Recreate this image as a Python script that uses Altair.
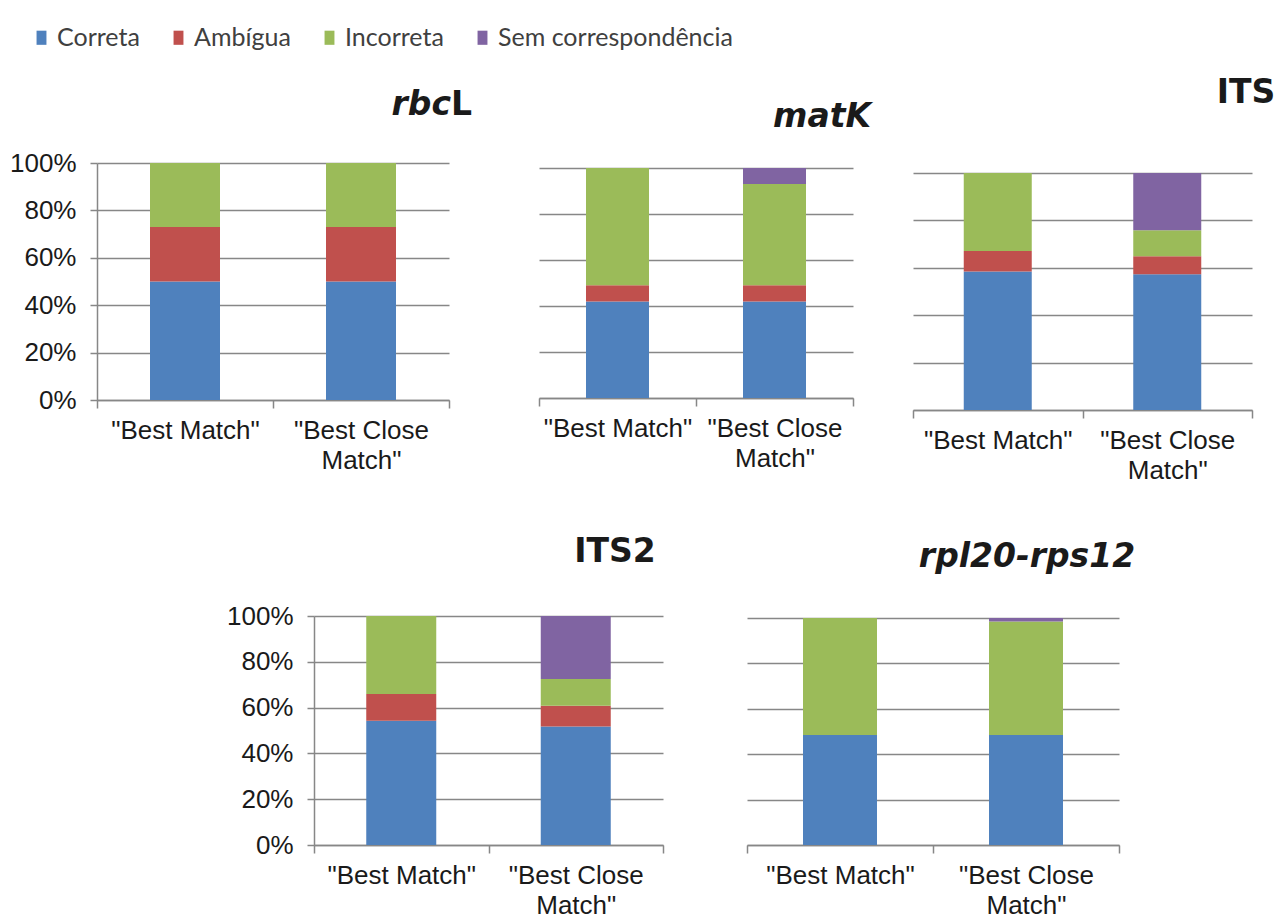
import altair as alt
import pandas as pd

# Classes de identificação e cores (paleta Office)
classes = ["Correta", "Ambígua", "Incorreta", "Sem correspondência"]
cores = ["#4F81BD", "#C0504D", "#9BBB59", "#8064A2"]
categorias = ['"Best Match"', '"Best Close Match"']
titulos = ["rbcL", "matK", "ITS", "ITS2", "rpl20-rps12"]
marcas_y = [0, 20, 40, 60, 80, 100]

# Percentagens por marcador: [Correta, Ambígua, Incorreta, Sem correspondência]
rbcl_best = [50.0, 23.0, 27.0, 0.0]
rbcl_close = [50.0, 23.0, 27.0, 0.0]
matk_best = [42.0, 7.0, 51.0, 0.0]
matk_close = [42.0, 7.0, 44.0, 7.0]
its_best = [58.4, 8.7, 32.9, 0.0]
its_close = [57.3, 7.6, 10.9, 24.2]
its2_best = [54.3, 11.6, 34.1, 0.0]
its2_close = [51.8, 9.0, 11.7, 27.5]
rpl_best = [48.5, 0.0, 51.5, 0.0]
rpl_close = [48.5, 0.0, 50.0, 1.5]

W, H = 1283, 918
CINZA = "#878787"
FONTE_EIXO = "Liberation Sans"
FONTE_TITULO = "DejaVu Sans"
FONTE_LEGENDA = "Lato"


def tabela(best, close):
    linhas = []
    for cat, vals in zip(categorias, [best, close]):
        for i, (cls, v) in enumerate(zip(classes, vals)):
            if v > 0:
                linhas.append({"categoria": cat, "classe": cls, "ordem": i, "valor": v})
    return pd.DataFrame(linhas)


legenda = alt.Legend(
    title=None,
    orient="none",
    legendX=29,
    legendY=25,
    direction="horizontal",
    symbolType="M-0.7,-1H0.7V1H-0.7Z",
    symbolSize=200,
    symbolStrokeWidth=0,
    labelFont=FONTE_LEGENDA,
    labelFontSize=25,
    labelColor="#404040",
    labelOffset=3,
    labelLimit=0,
    columnPadding=26,
    padding=0,
)


def painel(best, close, xr, yr, largura, com_rotulos):
    eixo_x = alt.Axis(
        title=None,
        orient="bottom",
        offset=yr[0] - H,
        grid=False,
        domainColor=CINZA,
        domainWidth=1.5,
        tickBand="extent",
        tickSize=8,
        tickColor=CINZA,
        tickWidth=1.5,
        labelFont=FONTE_EIXO,
        labelFontSize=26,
        labelColor="#1a1a1a",
        labelAngle=0,
        labelPadding=9,
        labelLimit=0,
        labelOverlap=False,
        labelLineHeight=30,
        labelExpr="split(replace(datum.label, 'Close ', 'Close|'), '|')",
    )
    eixo_y = alt.Axis(
        title=None,
        orient="left",
        offset=-xr[0],
        values=marcas_y,
        grid=True,
        gridColor=CINZA,
        gridWidth=1.5,
        domain=com_rotulos,
        domainColor=CINZA,
        domainWidth=1.5,
        ticks=com_rotulos,
        tickSize=7,
        tickColor=CINZA,
        tickWidth=1.5,
        labels=com_rotulos,
        labelExpr="datum.value + '%'",
        labelFont=FONTE_EIXO,
        labelFontSize=26,
        labelColor="#1a1a1a",
        labelPadding=14,
    )
    return (
        alt.Chart(tabela(best, close))
        .mark_bar(size=largura)
        .encode(
            x=alt.X(
                "categoria:N",
                sort=categorias,
                scale=alt.Scale(domain=categorias, range=list(xr), paddingInner=0, paddingOuter=0),
                axis=eixo_x,
            ),
            y=alt.Y(
                "valor:Q",
                stack="zero",
                scale=alt.Scale(domain=[0, 100], range=list(yr), nice=False),
                axis=eixo_y,
            ),
            color=alt.Color("classe:N", scale=alt.Scale(domain=classes, range=cores), legend=legenda),
            order=alt.Order("ordem:Q", sort="ascending"),
        )
    )


def titulo(texto, x, y, italico, alinhamento="center"):
    return (
        alt.Chart(pd.DataFrame({"t": [texto]}))
        .mark_text(
            font=FONTE_TITULO,
            fontSize=33,
            fontWeight="bold",
            fontStyle="italic" if italico else "normal",
            align=alinhamento,
            baseline="alphabetic",
            color="#1a1a1a",
        )
        .encode(x=alt.value(x), y=alt.value(y), text="t:N")
    )


paineis = [
    painel(rbcl_best, rbcl_close, (97, 449), (400, 163), 70, True),
    painel(matk_best, matk_close, (539, 853), (398, 168), 63, False),
    painel(its_best, its_close, (913, 1252), (410, 173), 68, False),
    painel(its2_best, its2_close, (314, 663), (845, 616), 70, True),
    painel(rpl_best, rpl_close, (747, 1119), (845, 618), 74, False),
]

cabecalhos = [
    titulo(titulos[0][:-1], 451, 115, True, "right"),
    titulo(titulos[0][-1:], 451, 115, False, "left"),
    titulo(titulos[1], 822, 127, True),
    titulo(titulos[2], 1246, 103, False),
    titulo(titulos[3], 615, 562, False),
    titulo(titulos[4], 1027, 567, True),
]

chart = (
    alt.layer(*paineis, *cabecalhos)
    .resolve_scale(x="independent", y="independent")
    .properties(width=W, height=H, autosize="none", padding=0, background="white")
    .configure_view(strokeWidth=0)
)

chart.save("out.html", embed_options={"renderer": "svg", "actions": False})
